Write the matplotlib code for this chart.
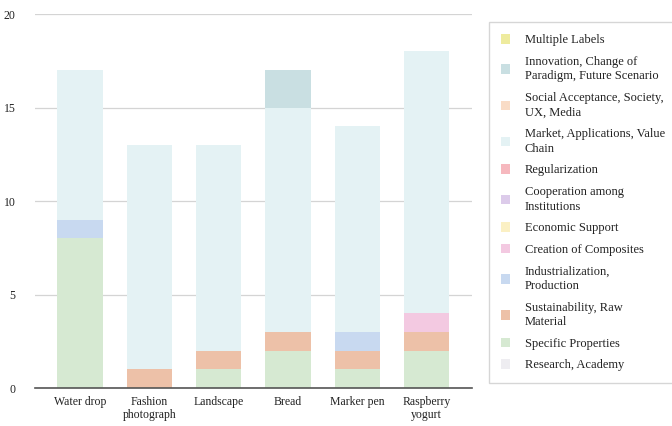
import matplotlib
matplotlib.use("Agg")
import matplotlib.pyplot as plt
import numpy as np

plt.rcParams['font.family'] = ['Liberation Serif', 'DejaVu Serif']

categories = ["Water drop", "Fashion\nphotograph", "Landscape", "Bread", "Marker pen", "Raspberry\nyogurt"]

# stacked from bottom to top
series_names = [
    "Research, Academy",
    "Specific Properties",
    "Sustainability, Raw\nMaterial",
    "Industrialization,\nProduction",
    "Creation of Composites",
    "Economic Support",
    "Cooperation among\nInstitutions",
    "Regularization",
    "Market, Applications, Value\nChain",
    "Social Acceptance, Society,\nUX, Media",
    "Innovation, Change of\nParadigm, Future Scenario",
    "Multiple Labels",
]
research = [0, 0, 0, 0, 0, 0]
specific = [8, 0, 1, 2, 1, 2]
sustainability = [0, 1, 1, 1, 1, 1]
industrialization = [1, 0, 0, 0, 1, 0]
composites = [0, 0, 0, 0, 0, 1]
economic = [0, 0, 0, 0, 0, 0]
cooperation = [0, 0, 0, 0, 0, 0]
regularization = [0, 0, 0, 0, 0, 0]
market = [8, 12, 11, 12, 11, 14]
social = [0, 0, 0, 0, 0, 0]
innovation = [0, 0, 0, 2, 0, 0]
multiple = [0, 0, 0, 0, 0, 0]

series_values = [research, specific, sustainability, industrialization, composites,
                 economic, cooperation, regularization, market, social, innovation, multiple]
colors = ["#eeedf1", "#d6e9d2", "#edc1a8", "#c8d9f0", "#f3c9e1", "#fbf0c4",
          "#dccbea", "#f6b8be", "#e4f2f4", "#f9dcc6", "#c9dfe2", "#eeeb9e"]

fig = plt.figure(figsize=(6.72, 4.26), dpi=100)
ax = fig.add_axes([0.052, 0.089, 0.65, 0.878])

x = np.arange(len(categories))
bottom = np.zeros(len(categories))
handles = []
for name, vals, col in zip(series_names, series_values, colors):
    v = np.array(vals, dtype=float)
    b = ax.bar(x, v, bottom=bottom, width=0.65, color=col, label=name, zorder=2, linewidth=0)
    handles.append(b)
    bottom += v

ax.set_ylim(0, 20)
ax.set_xlim(-0.65, 5.65)
ax.set_yticks([0, 5, 10, 15, 20])
ax.yaxis.grid(True, color="#d4d4d4", linewidth=0.9, zorder=0)
ax.set_axisbelow(True)
for s in ["top", "right", "left"]:
    ax.spines[s].set_visible(False)
ax.spines["bottom"].set_color("#555555")
ax.spines["bottom"].set_linewidth(1.2)
ax.set_xticks(x)
ax.set_xticklabels(categories, fontsize=8.5, color="#222222", linespacing=1.1)
ax.tick_params(axis="both", length=0, labelsize=8.5, colors="#222222")
ax.tick_params(axis="y", pad=14)
ax.tick_params(axis="x", pad=6)

leg = fig.legend(handles[::-1], series_names[::-1], loc="upper left",
                 bbox_to_anchor=(0.728, 0.948), frameon=True, fancybox=False,
                 fontsize=9, handlelength=0.7, handleheight=0.8, handletextpad=1.2,
                 labelspacing=0.76, borderpad=0.95, borderaxespad=0, edgecolor="#cccccc")
leg.get_frame().set_linewidth(1.0)
for t in leg.get_texts():
    t.set_color("#222222")
    t.set_linespacing(1.3)

fig.savefig("out.png", dpi=100)
